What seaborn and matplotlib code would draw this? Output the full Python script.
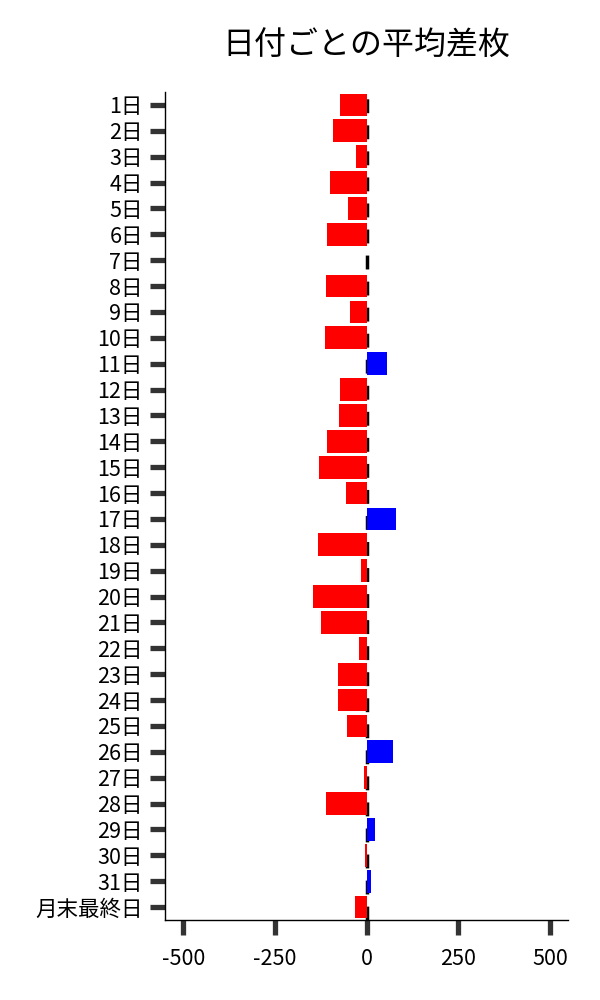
import matplotlib

matplotlib.use("Agg")
import matplotlib.pyplot as plt
import numpy as np
import pandas as pd
import seaborn as sns

# Data
days = [f"{d}日" for d in range(1, 32)] + ["月末最終日"]
avg_diff = [
    -73, -93, -30, -101, -52, -109, 2, -111, -46, -114,
    56, -73, -76, -109, -130, -57, 81, -133, -14, -147,
    -125, -22, -79, -79, -54, 73, -8, -111, 22, -5,
    12, -33,
]
x_ticks = [-500, -250, 0, 250, 500]

sns.set_style("ticks")
plt.rcParams["font.family"] = ["Noto Sans CJK JP", "DejaVu Sans"]
plt.rcParams["text.color"] = "black"

df = pd.DataFrame({"day": days, "diff": avg_diff})
colors = ["#0000ff" if v > 0 else "#ff0000" for v in df["diff"]]

fig = plt.figure(figsize=(6, 10), dpi=100)
ax = fig.add_axes([0.275, 0.08, 0.672, 0.828])

# zero line sits behind the bars
ax.axvline(0, color="black", linestyle=(0, (4, 3.5)), linewidth=2.5, zorder=0)
sns.barplot(
    data=df,
    x="diff",
    y="day",
    hue="day",
    palette=colors,
    legend=False,
    saturation=1,
    width=0.88,
    linewidth=0,
    ax=ax,
    zorder=2,
)

ax.set_xlim(-550, 550)
ax.set_xticks(x_ticks)
ax.set_xticklabels([str(t) for t in x_ticks])
ax.set_xlabel("")
ax.set_ylabel("")
ax.tick_params(axis="both", length=11, width=3.8, color="#333333",
               labelsize=15.5, labelcolor="black")
ax.tick_params(axis="x", pad=9)
ax.tick_params(axis="y", pad=5)
sns.despine(ax=ax)
for side in ["left", "bottom"]:
    ax.spines[side].set_linewidth(1)
    ax.spines[side].set_color("black")

fig.suptitle("日付ごとの平均差枚", x=0.61, y=0.97, fontsize=23, color="black")

fig.savefig("out.png", dpi=100)
